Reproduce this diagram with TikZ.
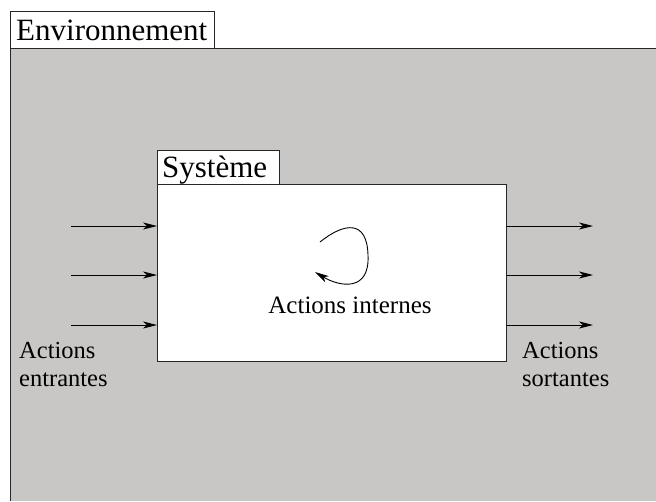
\documentclass[tikz,border=0pt]{standalone}
\usepackage{fontspec}
\setmainfont{Liberation Serif}
\usetikzlibrary{arrows.meta}
\definecolor{envgray}{RGB}{200,199,197}
\begin{document}
\begin{tikzpicture}[x=1pt,y=-1pt,
  frame/.style={draw=black!85, line width=1pt},
  act/.style={-{Stealth[length=14pt,width=7pt,inset=4pt]}, line width=0.9pt},
  big/.style={font=\fontsize{31}{36}\selectfont, inner sep=0pt, anchor=base west},
  lbl/.style={font=\fontsize{24.5}{27.5}\selectfont, inner sep=0pt, align=left, anchor=base west}]
\useasboundingbox (0,0) rectangle (656,501);
\fill[envgray] (10,48) rectangle (656,501);
\draw[frame] (10,501) -- (10,48) -- (656,48);
\node[frame, fill=white, anchor=north west, inner sep=0pt, minimum width=204pt, minimum height=37pt] (envbox) at (10,11) {};
\node[big] (envtext) at (16,40) {Environnement};
\node[frame, fill=white, anchor=north west, inner sep=0pt, minimum width=122pt, minimum height=34pt] (sysbox) at (157,150) {};
\node[big] (systext) at (162,177) {Système};
\node[frame, fill=white, anchor=north west, inner sep=0pt, minimum width=349pt, minimum height=177pt] (sys) at (157,184) {};
\coordinate (in1) at (71,226);
\coordinate (in2) at (71,275);
\coordinate (in3) at (71,325);
\coordinate (out1) at (593,226);
\coordinate (out2) at (593,275);
\coordinate (out3) at (593,325);
\draw[act] (in1) -- (in1 -| sys.west);
\draw[act] (in2) -- (in2 -| sys.west);
\draw[act] (in3) -- (in3 -| sys.west);
\draw[act] (out1 -| sys.east) -- (out1);
\draw[act] (out2 -| sys.east) -- (out2);
\draw[act] (out3 -| sys.east) -- (out3);
\coordinate (loopstart) at (320,242);
\coordinate (loopright) at (368,255);
\coordinate (loopend) at (315,272);
\draw[act] (loopstart) .. controls (345,222) and (367,220) .. (loopright) .. controls (370,292) and (340,287) .. (loopend);
\node[lbl] (entr) at (19,386) {Actions\\entrantes};
\node[lbl] (sort) at (522,386) {Actions\\sortantes};
\node[font=\fontsize{25}{28}\selectfont, inner sep=0pt, anchor=base] (intern) at (350,313) {Actions internes};
\end{tikzpicture}
\end{document}
